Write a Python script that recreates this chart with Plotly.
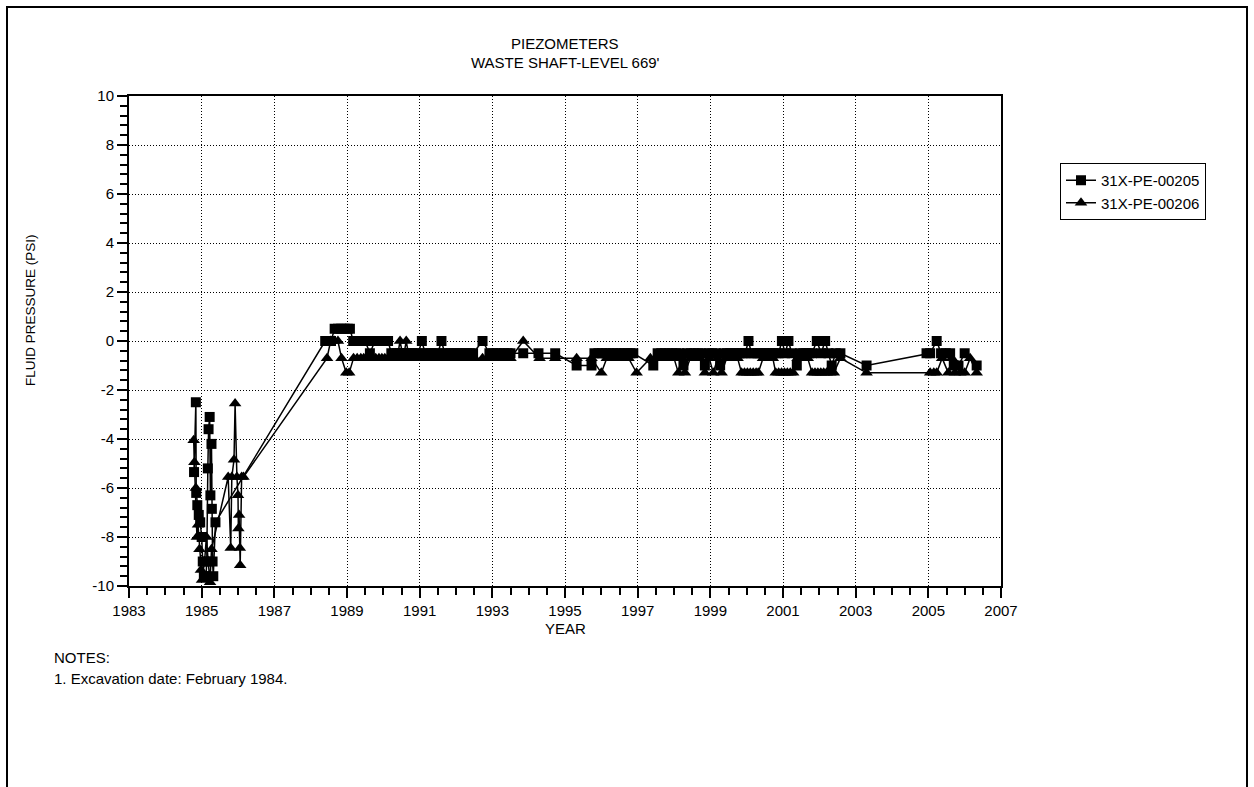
import plotly.graph_objects as go

# Piezometer 31X-PE-00205 (squares): decimal year and fluid pressure (psi)
sq_year = [
    1984.79, 1984.84, 1984.85, 1984.88, 1984.92, 1984.96, 1985.00, 1985.03, 1985.06, 1985.12,
    1985.14, 1985.17, 1985.19, 1985.22, 1985.24, 1985.27, 1985.28, 1985.30, 1985.32, 1985.38,
    1988.40, 1988.48, 1988.56, 1988.66, 1988.75, 1988.84, 1988.93, 1989.02, 1989.08, 1989.17,
    1989.26, 1989.34, 1989.42, 1989.50, 1989.63, 1989.77, 1989.86, 1989.95, 1990.04, 1990.13,
    1990.22, 1990.30, 1990.38, 1990.46, 1990.54, 1990.63, 1990.71, 1990.79, 1990.88, 1990.96,
    1991.06, 1991.15, 1991.23, 1991.32, 1991.40, 1991.50, 1991.60, 1991.69, 1991.77, 1991.86,
    1991.94, 1992.03, 1992.12, 1992.20, 1992.29, 1992.38, 1992.47, 1992.73, 1992.92, 1993.02,
    1993.12, 1993.22, 1993.32, 1993.42, 1993.50, 1993.85, 1994.27, 1994.73, 1995.32, 1995.73,
    1995.81, 1995.92, 1996.02, 1996.12, 1996.22, 1996.32, 1996.42, 1996.52, 1996.62, 1996.72,
    1996.80, 1996.88, 1997.43, 1997.55, 1997.65, 1997.75, 1997.85, 1997.95, 1998.05, 1998.15,
    1998.26, 1998.36, 1998.46, 1998.56, 1998.66, 1998.76, 1998.85, 1998.95, 1999.05, 1999.15,
    1999.27, 1999.37, 1999.46, 1999.55, 1999.64, 1999.72, 1999.80, 1999.88, 1999.96, 2000.05,
    2000.13, 2000.22, 2000.30, 2000.38, 2000.47, 2000.55, 2000.63, 2000.72, 2000.80, 2000.88,
    2000.97, 2001.06, 2001.15, 2001.24, 2001.38, 2001.47, 2001.56, 2001.64, 2001.72, 2001.80,
    2001.93, 2002.05, 2002.16, 2002.25, 2002.34, 2002.45, 2002.58, 2003.30, 2004.95, 2005.05,
    2005.23, 2005.35, 2005.48, 2005.60, 2005.70, 2005.83, 2006.00, 2006.33,
]
sq_psi = [
    -5.35, -2.50, -6.20, -6.70, -7.10, -7.40, -8.00, -9.00, -9.60, -9.60,
    -9.00, -5.20, -3.60, -3.10, -6.30, -4.20, -6.85, -9.00, -9.60, -7.40,
    0.0, 0.0, 0.0, 0.5, 0.5, 0.5, 0.5, 0.5, 0.5, 0.0,
    0.0, 0.0, 0.0, 0.0, -0.5, 0.0, 0.0, 0.0, 0.0, 0.0,
    -0.5, -0.5, -0.5, -0.5, -0.5, -0.5, -0.5, -0.5, -0.5, -0.5,
    0.0, -0.5, -0.5, -0.5, -0.5, -0.5, 0.0, -0.5, -0.5, -0.5,
    -0.5, -0.5, -0.5, -0.5, -0.5, -0.5, -0.5, 0.0, -0.5, -0.5,
    -0.5, -0.5, -0.5, -0.5, -0.5, -0.5, -0.5, -0.5, -1.0, -1.0,
    -0.5, -0.5, -0.5, -0.5, -0.5, -0.5, -0.5, -0.5, -0.5, -0.5,
    -0.5, -0.5, -1.0, -0.5, -0.5, -0.5, -0.5, -0.5, -0.5, -0.5,
    -1.0, -0.5, -0.5, -0.5, -0.5, -0.5, -1.0, -0.5, -0.5, -0.5,
    -1.0, -0.5, -0.5, -0.5, -0.5, -0.5, -0.5, -0.5, -0.5, 0.0,
    -0.5, -0.5, -0.5, -0.5, -0.5, -0.5, -0.5, -0.5, -0.5, -0.5,
    0.0, -0.5, 0.0, -0.5, -1.0, -0.5, -0.5, -0.5, -0.5, -0.5,
    0.0, -0.5, 0.0, -0.5, -1.0, -0.5, -0.5, -1.0, -0.5, -0.5,
    0.0, -0.5, -0.5, -0.5, -1.0, -1.0, -0.5, -1.0,
]

# Piezometer 31X-PE-00206 (triangles)
tri_year = [
    1984.78, 1984.80, 1984.84, 1984.87, 1984.90, 1984.94, 1984.98, 1985.01, 1985.08, 1985.13,
    1985.18, 1985.23, 1985.27, 1985.73, 1985.80, 1985.83, 1985.89, 1985.92, 1985.97, 1986.00,
    1986.01, 1986.03, 1986.05, 1986.06, 1986.10, 1986.15,
    1988.45, 1988.55, 1988.65, 1988.75, 1988.85, 1988.98, 1989.06, 1989.18, 1989.28, 1989.38,
    1989.46, 1989.55, 1989.63, 1989.71, 1989.79, 1989.88, 1989.96, 1990.04, 1990.13, 1990.21,
    1990.29, 1990.38, 1990.46, 1990.55, 1990.63, 1990.71, 1990.80, 1990.88, 1990.96, 1991.06,
    1991.15, 1991.23, 1991.32, 1991.40, 1991.50, 1991.60, 1991.69, 1991.77, 1991.86, 1991.94,
    1992.03, 1992.12, 1992.20, 1992.29, 1992.38, 1992.47, 1992.73, 1992.92, 1993.02, 1993.12,
    1993.22, 1993.32, 1993.42, 1993.50, 1993.85, 1994.30, 1994.73, 1995.32, 1995.73, 1996.00,
    1996.15, 1996.30, 1996.45, 1996.60, 1996.75, 1996.97, 1997.35, 1997.55, 1997.70, 1997.85,
    1998.00, 1998.12, 1998.20, 1998.30, 1998.45, 1998.60, 1998.72, 1998.85, 1998.97, 1999.08,
    1999.20, 1999.31, 1999.45, 1999.60, 1999.75, 1999.86, 1999.94, 2000.02, 2000.10, 2000.18,
    2000.26, 2000.32, 2000.45, 2000.60, 2000.72, 2000.80, 2000.88, 2000.96, 2001.04, 2001.12,
    2001.20, 2001.28, 2001.40, 2001.55, 2001.68, 2001.80, 2001.88, 2001.96, 2002.04, 2002.12,
    2002.20, 2002.30, 2002.40, 2002.58, 2003.30, 2005.05, 2005.15, 2005.23, 2005.38, 2005.55,
    2005.65, 2005.73, 2005.88, 2006.00, 2006.15, 2006.33,
]
tri_psi = [
    -4.05, -4.95, -6.00, -8.00, -7.50, -8.50, -9.35, -9.75, -9.00, -8.00,
    -9.00, -9.85, -8.50, -5.55, -8.45, -5.55, -4.85, -2.55, -5.55, -6.30,
    -7.65, -7.10, -8.45, -9.15, -5.55, -5.55,
    -0.7, 0.0, 0.0, 0.0, -0.7, -1.3, -1.3, -0.7, -0.7, -0.7,
    -0.7, -0.7, -0.7, -0.7, -0.7, -0.7, -0.7, -0.7, -0.7, -0.7,
    -0.7, -0.7, 0.0, -0.7, 0.0, -0.7, -0.7, -0.7, -0.7, -0.7,
    -0.7, -0.7, -0.7, -0.7, -0.7, -0.7, -0.7, -0.7, -0.7, -0.7,
    -0.7, -0.7, -0.7, -0.7, -0.7, -0.7, -0.7, -0.7, -0.7, -0.7,
    -0.7, -0.7, -0.7, -0.7, 0.0, -0.7, -0.7, -0.7, -0.7, -1.3,
    -0.7, -0.7, -0.7, -0.7, -0.7, -1.3, -0.7, -0.7, -0.7, -0.7,
    -0.7, -1.3, -0.7, -1.3, -0.7, -0.7, -0.7, -1.3, -0.7, -1.3,
    -0.7, -1.3, -0.7, -0.7, -0.7, -1.3, -1.3, -1.3, -1.3, -1.3,
    -1.3, -1.3, -0.7, -0.7, -0.7, -1.3, -1.3, -1.3, -1.3, -1.3,
    -1.3, -1.3, -0.7, -0.7, -0.7, -1.3, -1.3, -1.3, -1.3, -1.3,
    -1.3, -1.3, -1.3, -0.7, -1.3, -1.3, -1.3, -1.3, -0.7, -1.3,
    -0.7, -1.3, -1.3, -1.3, -0.7, -1.3,
]

x_ticks = [1983, 1985, 1987, 1989, 1991, 1993, 1995, 1997, 1999, 2001, 2003, 2005, 2007]
y_ticks = [-10, -8, -6, -4, -2, 0, 2, 4, 6, 8, 10]
y_tick_text = ["-10", "-8", "-6", "-4", "-2", "0", "2", "4", "6", "8", "10"]

FONT = "Liberation Sans, Arial, sans-serif"

fig = go.Figure()
fig.add_trace(go.Scatter(
    x=sq_year, y=sq_psi, name="31X-PE-00205", mode="lines+markers",
    line=dict(color="black", width=1.5),
    marker=dict(symbol="square", size=10, color="black"),
    cliponaxis=False,
))
fig.add_trace(go.Scatter(
    x=tri_year, y=tri_psi, name="31X-PE-00206", mode="lines+markers",
    line=dict(color="black", width=1.5),
    marker=dict(symbol="triangle-up", size=11, color="black"),
    cliponaxis=False,
))

axis_common = dict(
    showline=True, linecolor="black", linewidth=2, mirror=True,
    showgrid=True, gridcolor="black", gridwidth=1, griddash="1px,2px",
    zeroline=False, ticks="outside", tickcolor="black", tickwidth=1.5, ticklen=10,
    tickfont=dict(family=FONT, size=15, color="black"),
)

fig.update_xaxes(
    range=[1983, 2007], tickvals=x_ticks,
    minor=dict(dtick=0.5, tick0=1983, ticks="outside", ticklen=7, tickcolor="black",
               tickwidth=1.5, showgrid=False),
    **axis_common,
)
fig.update_yaxes(
    range=[-10, 10], tickvals=y_ticks, ticktext=y_tick_text,
    minor=dict(dtick=0.4, tick0=-10, ticks="outside", ticklen=7, tickcolor="black",
               tickwidth=1.5, showgrid=False),
    **axis_common,
)

L, R, T, B = 129, 253, 96, 201
W, H = 1254, 787
PW, PH = W - L - R, H - T - B


def px(xp):
    return (xp - L) / PW


def py(yp):
    return (H - B - yp) / PH


ann_font = dict(family=FONT, size=15, color="black")
annotations = [
    dict(text="PIEZOMETERS", x=0.5, y=py(43), xref="paper", yref="paper",
         showarrow=False, font=ann_font, xanchor="center", yanchor="middle"),
    dict(text="WASTE SHAFT-LEVEL 669'", x=0.5, y=py(62), xref="paper", yref="paper",
         showarrow=False, font=ann_font, xanchor="center", yanchor="middle"),
    dict(text="YEAR", x=0.5, y=py(628), xref="paper", yref="paper",
         showarrow=False, font=ann_font, xanchor="center", yanchor="middle"),
    dict(text="FLUID PRESSURE (PSI)", x=px(30), y=py(310), xref="paper", yref="paper",
         showarrow=False, font=dict(family=FONT, size=13.5, color="black"),
         textangle=-90, xanchor="center", yanchor="middle"),
    dict(text="NOTES:", x=px(52), y=py(657), xref="paper", yref="paper",
         showarrow=False, font=ann_font, xanchor="left", yanchor="middle"),
    dict(text="1. Excavation date: February 1984.", x=px(52), y=py(678), xref="paper",
         yref="paper", showarrow=False, font=ann_font, xanchor="left", yanchor="middle"),
]

fig.update_layout(
    width=W, height=H,
    margin=dict(l=L, r=R, t=T, b=B, pad=0),
    paper_bgcolor="white", plot_bgcolor="white",
    font=dict(family=FONT, color="black"),
    showlegend=True,
    legend=dict(
        x=px(1060), y=py(163), xanchor="left", yanchor="top",
        bordercolor="black", borderwidth=1, bgcolor="white",
        font=dict(family=FONT, size=15, color="black"),
        itemwidth=30, tracegroupgap=0,
    ),
    annotations=annotations,
    shapes=[dict(type="rect", xref="paper", yref="paper",
                 x0=px(7), x1=px(1247), y0=py(800), y1=py(7),
                 line=dict(color="black", width=2))],
)

fig.write_html("out.html")
